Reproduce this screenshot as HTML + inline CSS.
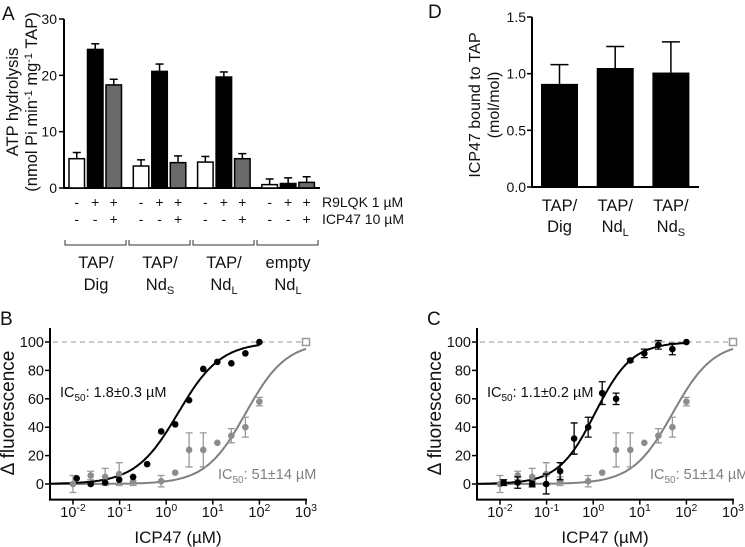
<!DOCTYPE html>
<html><head><meta charset="utf-8"><style>
html,body{margin:0;padding:0;background:#fff}
svg{display:block;font-family:"Liberation Sans",Arial,sans-serif}
text{fill:#111}
</style></head><body>
<svg id="fig" width="745" height="547" viewBox="0 0 745 547" xmlns="http://www.w3.org/2000/svg">
<g id="pA"></g>
<g id="pD"></g>
<g id="pB"></g>
<g id="pC"></g>
</svg>
<script>
// Panel A data
const aGroups = ["TAP/Dig","TAP/NdS","TAP/NdL","empty NdL"];
const aValues = [[5.2,24.6,18.3],[3.9,20.7,4.5],[4.6,19.7,5.2],[0.6,0.8,1.0]];
const aErrors = [[1.1,1.0,1.0],[1.1,1.3,1.2],[1.0,0.9,0.9],[1.0,1.0,1.0]];
const aTicks = [0,10,20,30];
// Panel D data
const dCats = ["Dig","NdL","NdS"];
const dValues = [0.91,1.05,1.01];
const dErrors = [0.17,0.19,0.27];
const dTicks = [0,0.5,1.0,1.5];
// Panels B/C data
const conc = [0.012,0.024,0.049,0.098,0.195,0.39,0.78,1.56,3.1,6.25,12.5,25,50,100];
const bBlack = [4,0,1,3,5,14,37,42,59,81,86,85,92,100];
const cBlack = [1,1,0,0,9,32,40,64,60,87,92,98,95,100];
const cBlackErr = [2,4,2,7,6,11,7,8,4,1,3,3,4,0];
const grayConc = [0.01,0.024,0.049,0.098,0.195,0.78,1.56,3.1,6.25,12.5,25,50,100];
const grayVals = [0,6,5,7,2,2,8,24,24,29,34,40,58];
const grayErr = [6,3,6,8,3,4,0,12,12,0,5,7,3];
const fitB = {ic50:1.8,hill:0.95};
const fitC = {ic50:1.1,hill:1.1};
const fitGray = {ic50:51,hill:1.0};
const xTickExp = [-2,-1,0,1,2,3];
const yTicksBC = [0,20,40,60,80,100];

const NS="http://www.w3.org/2000/svg";
function mk(parent,tag,attrs,txt){const e=document.createElementNS(NS,tag);for(const k in attrs)e.setAttribute(k,attrs[k]);if(txt!==undefined)e.textContent=txt;parent.appendChild(e);return e;}

// ---------- Panel A ----------
(function(){
  const g=document.getElementById('pA');
  const x0=64, y0=188, sc=(188-19)/30;
  const ya=v=>y0-v*sc;
  const fills=["#fff","#000","#6a6a6a"];
  const t=mk(g,'text',{x:2,y:20,'font-size':19},'A');
  
  
  const ax=mk(g,'path',{d:`M${x0} ${ya(30)} V${y0} H320`,stroke:'#000','stroke-width':2,fill:'none'});
  
  
  aTicks.forEach(v=>{
    mk(g,'line',{x1:x0-5,x2:x0,y1:ya(v),y2:ya(v),stroke:'#000','stroke-width':1.5});
    const l=mk(g,'text',{x:x0-7,y:ya(v)+5,'font-size':14,'text-anchor':'end'},v);
    
    
  });
  const yt=mk(g,'text',{transform:'translate(18,102) rotate(-90)','font-size':16.5,'text-anchor':'middle'});
  
  
  yt.textContent='ATP hydrolysis';
  const yt2=mk(g,'text',{transform:'translate(37,102) rotate(-90)','font-size':16.5,'text-anchor':'middle'});
  
  
  yt2.innerHTML='(nmol Pi min<tspan dy="-5" font-size="11">-1</tspan><tspan dy="5"> mg</tspan><tspan dy="-5" font-size="11">-1</tspan><tspan dy="5"> TAP)</tspan>';
  const r9=["-","+","+"], icp=["-","-","+"];
  aValues.forEach((grp,gi)=>{
    grp.forEach((v,bi)=>{
      const bx=69+gi*64.3+bi*18.5, w=15.5;
      const e=mk(g,'line',{x1:bx+w/2,x2:bx+w/2,y1:ya(v),y2:ya(v+aErrors[gi][bi]),stroke:'#000','stroke-width':1.5});
      
      
      mk(g,'line',{x1:bx+w/2-4,x2:bx+w/2+4,y1:ya(v+aErrors[gi][bi]),y2:ya(v+aErrors[gi][bi]),stroke:'#000','stroke-width':1.5});
      const b=mk(g,'rect',{x:bx,y:ya(v),width:w,height:Math.max(0,y0-ya(v)),fill:fills[bi],stroke:'#000','stroke-width':1.5});
      
      
      mk(g,'text',{x:bx+w/2,y:207,'font-size':14,'text-anchor':'middle'},r9[bi]);
      mk(g,'text',{x:bx+w/2,y:224,'font-size':14,'text-anchor':'middle'},icp[bi]);
    });
    const bx0=65+gi*64, bx1=bx0+61;
    const br=mk(g,'path',{d:`M${bx0} 240 V245 H${bx1} V240`,stroke:'#333','stroke-width':1,fill:'none'});
    
    
    const cx=96+gi*64;
    const first = gi<3 ? 'TAP/' : 'empty';
    const l1=mk(g,'text',{x:cx,y:268,'font-size':16.5,'text-anchor':'middle'},first);
    
    
    const l2=mk(g,'text',{x:cx,y:290,'font-size':16.5,'text-anchor':'middle'});
    if(gi===0) l2.textContent='Dig';
    else l2.innerHTML='Nd<tspan dy="4" font-size="11">'+(gi===1?'S':'L')+'</tspan>';
  });
  const r=mk(g,'text',{x:322,y:207,'font-size':14},'R9LQK 1 µM');
  
  
  const i=mk(g,'text',{x:322,y:224,'font-size':14},'ICP47 10 µM');
  
  
})();

// ---------- Panel D ----------
(function(){
  const g=document.getElementById('pD');
  const x0=532,y0=187,sc=(187-17)/1.5;
  const yd=v=>y0-v*sc;
  const t=mk(g,'text',{x:428,y:18,'font-size':19},'D');
  
  
  const ax=mk(g,'path',{d:`M${x0} ${yd(1.5)} V${y0} H699`,stroke:'#000','stroke-width':2,fill:'none'});
  
  
  dTicks.forEach(v=>{
    mk(g,'line',{x1:x0-5,x2:x0,y1:yd(v),y2:yd(v),stroke:'#000','stroke-width':1.5});
    const l=mk(g,'text',{x:x0-6,y:yd(v)+5,'font-size':14,'text-anchor':'end'},v.toFixed(1));
    
    
  });
  const yt=mk(g,'text',{transform:'translate(480,105) rotate(-90)','font-size':16,'text-anchor':'middle'},'ICP47 bound to TAP');
  
  
  const yt2=mk(g,'text',{transform:'translate(499,105) rotate(-90)','font-size':16,'text-anchor':'middle'},'(mol/mol)');
  
  
  dValues.forEach((v,i)=>{
    const bx=541+i*55.7,w=37,cx=bx+w/2;
    const e=mk(g,'path',{d:`M${cx} ${yd(v)} V${yd(v+dErrors[i])} M${cx-9} ${yd(v+dErrors[i])} H${cx+9}`,stroke:'#000','stroke-width':1.5,fill:'none'});
    
    
    const b=mk(g,'rect',{x:bx,y:yd(v),width:w,height:y0-yd(v),fill:'#000'});
    
    
    const l1=mk(g,'text',{x:cx,y:211,'font-size':16.5,'text-anchor':'middle'},'TAP/');
    
    
    const l2=mk(g,'text',{x:cx,y:232,'font-size':16.5,'text-anchor':'middle'});
    if(dCats[i]==='Dig') l2.textContent='Dig';
    else l2.innerHTML='Nd<tspan dy="4" font-size="11">'+dCats[i].slice(2)+'</tspan>';
  });
})();

// ---------- Panels B / C ----------
function doseChart(gid,letter,x0,xm2,blackVals,blackErr,fit,icLabelX,icText){
  const g=document.getElementById(gid);
  const dec=(306-73)/5;
  const xs=c=>xm2+(Math.log10(c)+2)*dec;
  const y0=484, sc=(484-342)/100;
  const ys=v=>y0-v*sc;
  const xEnd=xm2+5*dec;
  const t=mk(g,'text',{x:x0-50,y:325,'font-size':19},letter);
  
  
  const ax=mk(g,'path',{d:`M${x0} 328 V${ys(-11)} H${xEnd+1}`,stroke:'#000','stroke-width':2,fill:'none'});
  
  
  yTicksBC.forEach(v=>{
    mk(g,'line',{x1:x0-5,x2:x0,y1:ys(v),y2:ys(v),stroke:'#000','stroke-width':1.5});
    const l=mk(g,'text',{x:x0-6,y:ys(v)+5,'font-size':14.5,'text-anchor':'end'},v);
    
    
  });
  xTickExp.forEach(e=>{
    const x=xm2+(e+2)*dec;
    mk(g,'line',{x1:x,x2:x,y1:ys(-11),y2:ys(-11)+5,stroke:'#000','stroke-width':1.5});
    const l=mk(g,'text',{x:x,y:517,'font-size':14.5,'text-anchor':'middle'});
    
    
    l.innerHTML='10<tspan dy="-6" font-size="10.5">'+e+'</tspan>';
  });
  const xt=mk(g,'text',{x:(x0+xEnd)/2,y:543,'font-size':17,'text-anchor':'middle'},'ICP47 (µM)');
  
  
  const yt=mk(g,'text',{transform:`translate(${x0-36},413) rotate(-90)`,'font-size':19,'text-anchor':'middle'},'Δ fluorescence');
  
  
  const ref=mk(g,'line',{x1:x0+3,x2:xEnd,y1:ys(100),y2:ys(100),stroke:'#aaa','stroke-width':1.2,'stroke-dasharray':'5,4'});
  
  
  const sq=mk(g,'rect',{x:xs(1000)-3.5,y:ys(100)-3.5,width:7,height:7,fill:'#fff',stroke:'#999','stroke-width':1.5});
  
  
  function curve(f,lo,hi,col,name){
    let d='';
    for(let i=0;i<=120;i++){const lc=lo+(hi-lo)*i/120;const c=Math.pow(10,lc);const v=100/(1+Math.pow(f.ic50/c,f.hill));d+=(i?'L':'M')+xs(c).toFixed(1)+' '+ys(v).toFixed(1);}
    const p=mk(g,'path',{d:d,stroke:col,'stroke-width':2,fill:'none'});
    
    
  }
  curve(fitGray,-2.5,3,'#808080','gray-fit-curve');
  curve(fit,-2.5,2,'#000','black-fit-curve');
  grayConc.forEach((c,i)=>{
    const x=xs(c),v=grayVals[i],e=grayErr[i];
    if(e>0){const eb=mk(g,'path',{d:`M${x} ${ys(v-e)} V${ys(v+e)} M${x-3.5} ${ys(v-e)} H${x+3.5} M${x-3.5} ${ys(v+e)} H${x+3.5}`,stroke:'#999','stroke-width':1.3,fill:'none'});
      
      }
    const p=mk(g,'circle',{cx:x,cy:ys(v),r:3.3,fill:'#8c8c8c'});
    
    
  });
  conc.forEach((c,i)=>{
    const x=xs(c),v=blackVals[i],e=blackErr?blackErr[i]:0;
    if(e>0){const eb=mk(g,'path',{d:`M${x} ${ys(v-e)} V${ys(v+e)} M${x-3.5} ${ys(v-e)} H${x+3.5} M${x-3.5} ${ys(v+e)} H${x+3.5}`,stroke:'#000','stroke-width':1.3,fill:'none'});
      
      }
    const p=mk(g,'circle',{cx:x,cy:ys(v),r:3.3,fill:'#000'});
    
    
  });
  const a1=mk(g,'text',{x:x0+10,y:397,'font-size':14.5});
  
  
  a1.innerHTML='IC<tspan dy="4" font-size="10">50</tspan><tspan dy="-4">: '+icText+' µM</tspan>';
  const a2=mk(g,'text',{x:icLabelX,y:479,'font-size':14.5,fill:'#808080'});
  
  
  a2.innerHTML='IC<tspan dy="4" font-size="10">50</tspan><tspan dy="-4">: 51±14 µM</tspan>';
  a2.style.fill='#808080';
}
doseChart('pB','B',50,73,bBlack,null,fitB,218,'1.8±0.3');
doseChart('pC','C',477,500,cBlack,cBlackErr,fitC,650,'1.1±0.2');
</script>
</body></html>
